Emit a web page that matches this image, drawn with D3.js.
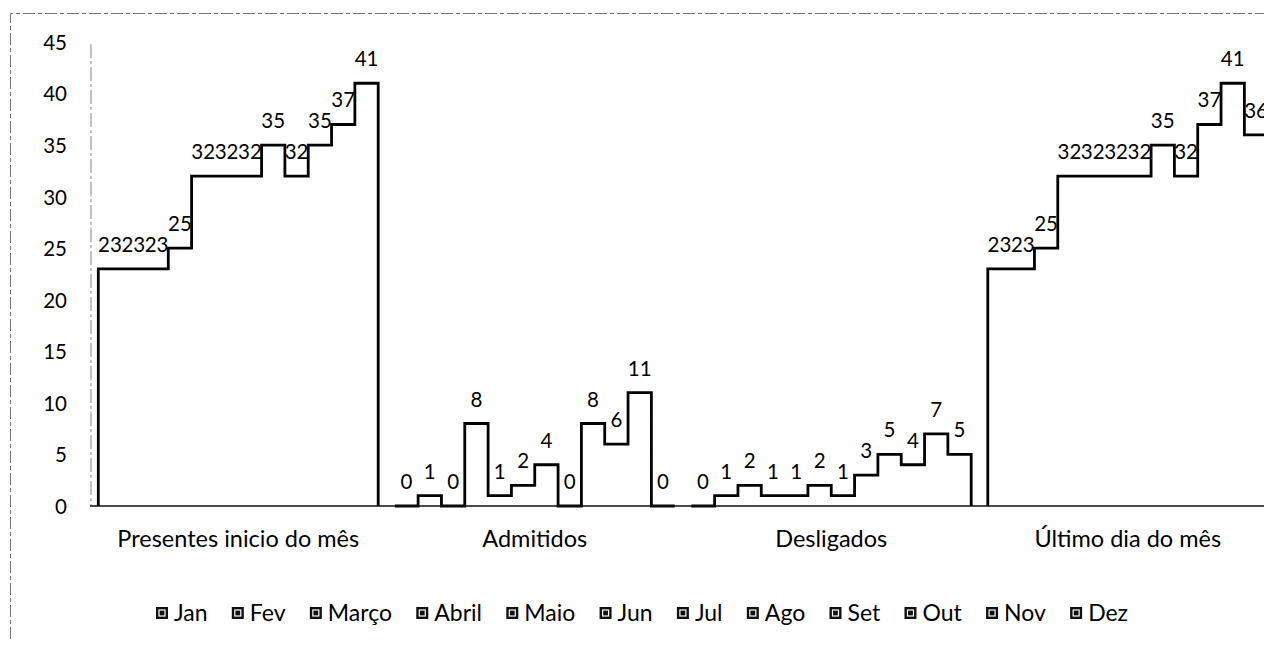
<!DOCTYPE html>
<html>
<head>
<meta charset="utf-8">
<script src="https://cdn.jsdelivr.net/npm/d3@7"></script>
<style>
  html, body { margin: 0; padding: 0; background: #fff; }
  svg { display: block; font-family: Lato, "Open Sans", sans-serif; }
</style>
</head>
<body>
<svg id="chart" width="1264" height="647"></svg>
<script>
// Categories and monthly series
const categories = ["Presentes inicio do mês", "Admitidos", "Desligados", "Último dia do mês"];
const months = ["Jan", "Fev", "Março", "Abril", "Maio", "Jun", "Jul", "Ago", "Set", "Out", "Nov", "Dez"];
const presentes = [23, 23, 23, 25, 32, 32, 32, 35, 32, 35, 37, 41];
const admitidos = [0, 1, 0, 8, 1, 2, 4, 0, 8, 6, 11, 0];
const desligados = [0, 1, 2, 1, 1, 2, 1, 3, 5, 4, 7, 5];
const ultimoDia = [23, 23, 25, 32, 32, 32, 32, 35, 32, 37, 41, 36];
const yTicks = [0, 5, 10, 15, 20, 25, 30, 35, 40, 45];

const seriesByCategory = [presentes, admitidos, desligados, ultimoDia];

const svg = d3.select("#chart");
const W = 1264, H = 647;

// Chart frame
svg.append("path")
  .attr("d", `M10.5,${H - 8} L10.5,13.5 L${W},13.5`)
  .attr("fill", "none")
  .attr("stroke", "#777")
  .attr("stroke-width", 1)
  .attr("stroke-dasharray", "12,3,4,3");

const plotLeft = 90;
const step = 296.5;
const x0 = d3.scaleBand()
  .domain(categories)
  .range([plotLeft, plotLeft + step * categories.length])
  .paddingInner(0.056)
  .paddingOuter(0.028);

const x1 = d3.scaleBand()
  .domain(months)
  .range([0, x0.bandwidth()])
  .padding(0);

const y = d3.scaleLinear().domain([0, 45]).range([506, 42]);

// Y axis labels
const yAxis = d3.axisLeft(y).tickValues(yTicks).tickSize(0).tickPadding(0);
const gy = svg.append("g")
  .attr("transform", "translate(67,0)")
  .call(yAxis);
gy.select(".domain").remove();
gy.selectAll("text")
  .attr("font-family", "Lato, sans-serif")
  .attr("font-size", 20.5)
  .attr("fill", "#000")
  .attr("dy", "0.36em");

// Vertical axis line
svg.append("line")
  .attr("x1", plotLeft + 1).attr("x2", plotLeft + 1)
  .attr("y1", y(45) + 2).attr("y2", y(0))
  .attr("stroke", "#888")
  .attr("stroke-width", 1)
  .attr("stroke-dasharray", "14,3,3,3");

// Groups of bars
const groups = svg.append("g").selectAll("g")
  .data(categories.map((c, i) => ({ cat: c, values: seriesByCategory[i] })))
  .join("g")
  .attr("transform", d => `translate(${x0(d.cat)},0)`);

groups.selectAll("rect")
  .data(d => d.values.map((v, i) => ({ month: months[i], value: v })))
  .join("rect")
  .attr("x", d => x1(d.month))
  .attr("y", d => y(d.value))
  .attr("width", x1.bandwidth())
  .attr("height", d => y(0) - y(d.value))
  .attr("fill", "#fff");

// Outline of each group's bars (shared edges merge into a step contour)
const line = d3.line();
groups.append("path")
  .attr("d", d => {
    const pts = [[x1(months[0]), y(0)]];
    d.values.forEach((v, i) => {
      pts.push([x1(months[i]), y(v)]);
      pts.push([x1(months[i]) + x1.bandwidth(), y(v)]);
    });
    pts.push([x1(months[months.length - 1]) + x1.bandwidth(), y(0)]);
    return line(pts);
  })
  .attr("fill", "none")
  .attr("stroke", "#000")
  .attr("stroke-width", 2.8)
  .attr("stroke-linejoin", "miter");

// Baseline
svg.append("line")
  .attr("x1", plotLeft).attr("x2", W)
  .attr("y1", y(0)).attr("y2", y(0))
  .attr("stroke", "#111")
  .attr("stroke-width", 1.6);

// Value labels
groups.selectAll("text.val")
  .data(d => d.values.map((v, i) => ({ month: months[i], value: v })))
  .join("text")
  .attr("class", "val")
  .attr("x", d => x1(d.month) + x1.bandwidth() / 2)
  .attr("y", d => y(d.value) - 17)
  .attr("text-anchor", "middle")
  .attr("font-size", 20.5)
  .attr("fill", "#000")
  .text(d => d.value);

// Category labels
svg.append("g").selectAll("text")
  .data(categories)
  .join("text")
  .attr("x", d => x0(d) + x0.bandwidth() / 2)
  .attr("y", 547)
  .attr("text-anchor", "middle")
  .attr("font-size", 23.5)
  .attr("fill", "#000")
  .text(d => d);

// Legend
const legend = svg.append("g");
const items = legend.selectAll("g")
  .data(months)
  .join("g");
items.append("rect")
  .attr("width", 12).attr("height", 12)
  .attr("y", 607)
  .attr("fill", "#111");
items.append("rect")
  .attr("x", 3).attr("y", 610)
  .attr("width", 6).attr("height", 6)
  .attr("fill", "none")
  .attr("stroke", "#fff")
  .attr("stroke-width", 1.2);
items.append("text")
  .attr("x", 18)
  .attr("y", 621)
  .attr("font-size", 23)
  .attr("fill", "#000")
  .text(d => d);

const widths = [];
items.select("text").each(function () { widths.push(this.getComputedTextLength()); });
const legStart = 156, legEnd = 1128;
const itemW = widths.map(w => 18 + w);
const gap = (legEnd - legStart - d3.sum(itemW)) / (months.length - 1);
let cx = legStart;
items.attr("transform", (d, i) => {
  const t = `translate(${cx},0)`;
  cx += itemW[i] + gap;
  return t;
});
</script>
</body>
</html>
